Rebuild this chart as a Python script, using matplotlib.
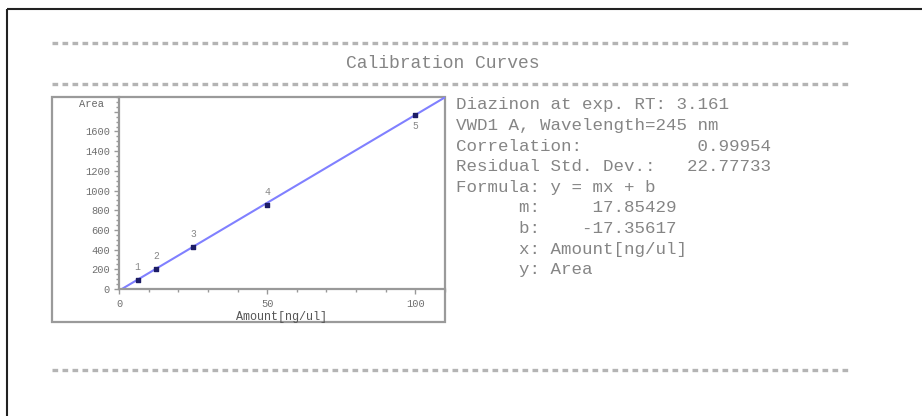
import matplotlib
matplotlib.use('Agg')
import matplotlib.pyplot as plt
from matplotlib.patches import Rectangle
from matplotlib.ticker import MultipleLocator

# calibration levels
levels = ['1', '2', '3', '4', '5']
amounts = [6.25, 12.5, 25, 50, 100]
areas = [96, 208, 428, 855, 1772]

# fit reported by the software
slope = 17.85429
intercept = -17.35617
fit_x = [0, 110]

y_ticks = [0, 200, 400, 600, 800, 1000, 1200, 1400, 1600, 1800]
y_tick_labels = ['0', '200', '400', '600', '800', '1000', '1200', '1400', '1600', '']
x_ticks = [0, 50, 100]

report_lines = [
    'Diazinon at exp. RT: 3.161',
    'VWD1 A, Wavelength=245 nm',
    'Correlation:           0.99954',
    'Residual Std. Dev.:   22.77733',
    'Formula: y = mx + b',
    '      m:     17.85429',
    '      b:    -17.35617',
    '      x: Amount[ng/ul]',
    '      y: Area',
]

W, H = 922, 416
TXT = '#858585'
MONO = ['Liberation Mono', 'DejaVu Sans Mono']

fig = plt.figure(figsize=(W / 100, H / 100), dpi=100)
fig.patch.set_facecolor('white')

# background layer in pixel coordinates for the page decorations
bg = fig.add_axes([0, 0, 1, 1])
bg.set_xlim(0, W)
bg.set_ylim(H, 0)
bg.axis('off')

# page border (top and left edge)
bg.plot([7, W], [9, 9], color='#222222', lw=1.5, solid_capstyle='butt')
bg.plot([7, 7], [9, H], color='#222222', lw=1.5, solid_capstyle='butt')

# rows of '=' separators
for yy in [43, 84, 370]:
    bg.plot([52, 850], [yy, yy], color='#b4b4b4', lw=2.4,
            dashes=(1.7, 1.3), solid_capstyle='butt')

bg.text(443, 63, 'Calibration Curves', ha='center', va='center',
        fontsize=13, color=TXT, family=MONO)

# grey frame around the plot
bg.add_patch(Rectangle((52, 97), 445 - 52, 322 - 97, fill=False,
                       edgecolor='#9a9a9a', lw=1.6))

for i, line in enumerate(report_lines):
    bg.text(456, 105 + 20.6 * i, line, ha='left', va='center',
            fontsize=12.6, color=TXT, family=MONO)

bg.text(91, 104, 'Area', ha='center', va='center', fontsize=7.5,
        color='#666666', family=MONO)

# calibration plot
left, right, top, bottom = 119, 445, 97, 289
ax = fig.add_axes([left / W, (H - bottom) / H, (right - left) / W, (bottom - top) / H])
ax.patch.set_alpha(0)

fit_y = [slope * x + intercept for x in fit_x]
ax.plot(fit_x, fit_y, color='#8080ff', lw=1.5, zorder=2)
ax.scatter(amounts, areas, marker='s', s=9, color='#1c1c66', zorder=3)
for lab, x, y in zip(levels, amounts, areas):
    off = -8 if lab == '5' else 9
    ax.annotate(lab, (x, y), xytext=(0, off), textcoords='offset points',
                ha='center', va='center', fontsize=7, color='#888888',
                family=MONO)

ax.set_xlim(0, 110)
ax.set_ylim(0, 1950)
ax.set_xticks(x_ticks)
ax.set_yticks(y_ticks)
ax.set_yticklabels(y_tick_labels)
ax.xaxis.set_minor_locator(MultipleLocator(10))
ax.yaxis.set_minor_locator(MultipleLocator(50))
ax.tick_params(which='major', length=3.5, width=1, color='#999999',
               labelsize=7.5, labelcolor='#707070', pad=3)
ax.tick_params(which='minor', length=2, width=1, color='#999999')
ax.tick_params(axis='x', pad=4)
for lbl in ax.get_xticklabels() + ax.get_yticklabels():
    lbl.set_family(MONO)

for side in ['top', 'right']:
    ax.spines[side].set_visible(False)
for side in ['left', 'bottom']:
    ax.spines[side].set_color('#999999')
    ax.spines[side].set_linewidth(1.6)

ax.set_xlabel('Amount[ng/ul]', fontsize=8.5, color='#555555', labelpad=1,
              family=MONO)

fig.savefig('out.png', dpi=100, facecolor='white')
